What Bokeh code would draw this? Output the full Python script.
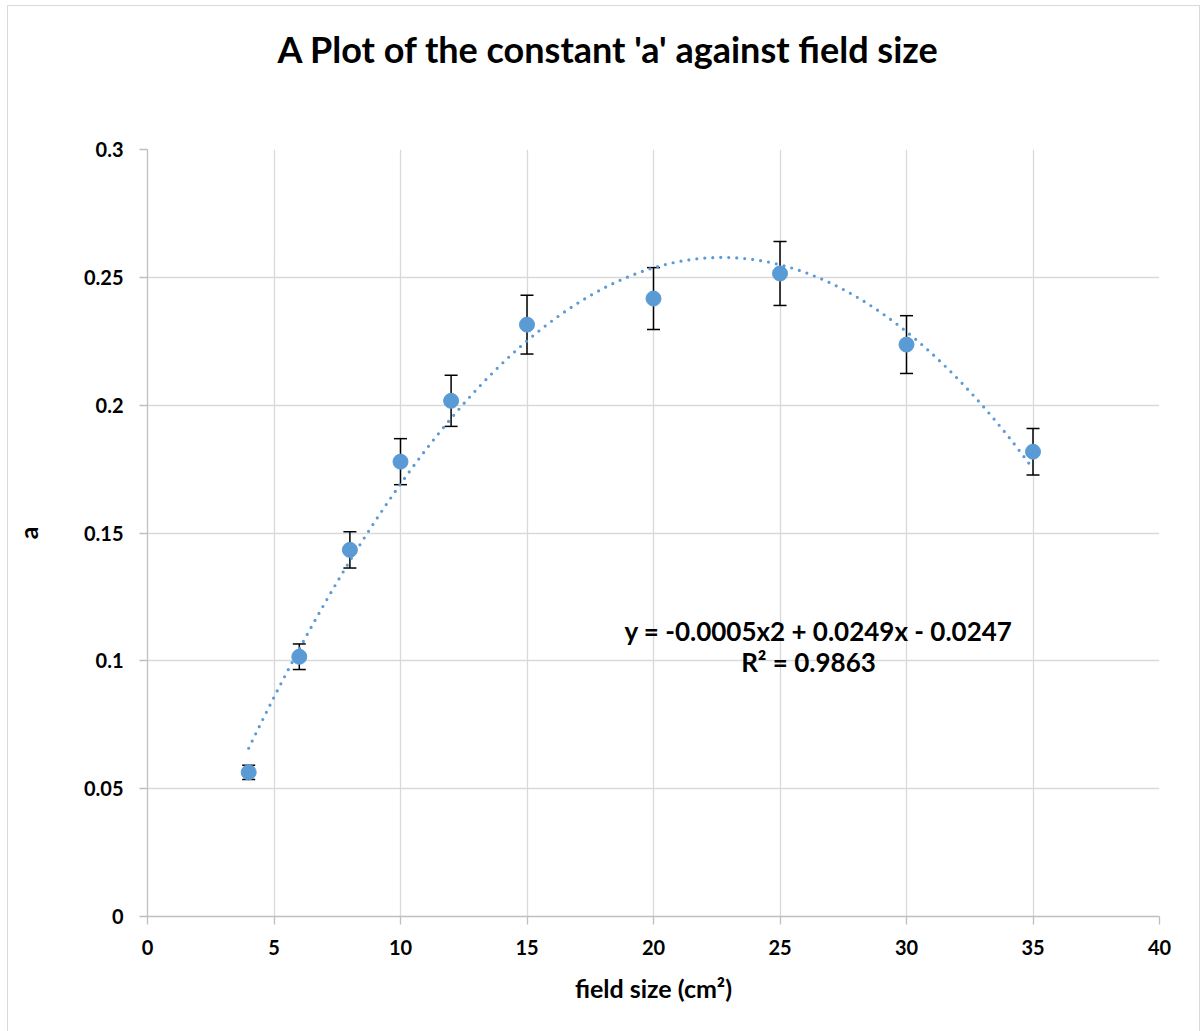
import numpy as np
from bokeh.plotting import figure
from bokeh.models import (ColumnDataSource, Whisker, TeeHead, Label, FixedTicker,
                          NumeralTickFormatter, Title)
from bokeh.embed import file_html
from bokeh.resources import INLINE

# ---- data ----
field_size = [4, 6, 8, 10, 12, 15, 20, 25, 30, 35]
a_values = [0.0564, 0.1016, 0.1434, 0.1779, 0.2017, 0.2315, 0.2417, 0.2515, 0.2237, 0.1818]
a_errors = [0.0028, 0.0050, 0.0071, 0.0090, 0.0100, 0.0115, 0.0121, 0.0125, 0.0113, 0.0091]
x_ticks = [0, 5, 10, 15, 20, 25, 30, 35, 40]
y_ticks = [0, 0.05, 0.1, 0.15, 0.2, 0.25, 0.3]

title_text = "A Plot of the constant 'a'  against field size"
eq_text = "y = -0.0005x2 + 0.0249x - 0.0247"
r2_text = "R\u00b2 = 0.9863"
x_label = "field size (cm\u00b2)"
y_label = "a"

FONT = "Lato"
BLUE = "#5b9bd5"

# ---- geometry ----
X0, X1 = 0, 40
Y0, Y1 = 0, 0.3
ORG_X, ORG_Y = 8, 6                     # page position of the canvas
FL, FT, FW, FH = 139, 143, 1012, 767    # frame left/top/width/height inside the figure
W, H = 1191, 1027

p = figure(width=W, height=H, x_range=(X0, X1), y_range=(Y0, Y1),
           output_backend="svg", toolbar_location=None, title=None,
           min_border_left=FL, min_border_top=FT,
           min_border_right=W - FL - FW, min_border_bottom=H - FT - FH)
p.frame_width = FW
p.frame_height = FH
p.outline_line_color = None
p.background_fill_color = "white"
p.border_fill_color = "white"
p.styles = {"border": "1px solid #d9d9d9", "margin": "5px 0px 0px 7px"}

# spacer between frame and title, then the title itself (stacked outward)
p.add_layout(Title(text=" ", text_font_size="1px", standoff=76), "above")
p.add_layout(Title(text=title_text, text_font=FONT, text_font_style="bold",
                   text_font_size="36px", text_color="black",
                   align="left", offset=130, standoff=0), "above")

# axes
for ax in (p.xaxis[0], p.yaxis[0]):
    ax.axis_line_color = "#bfbfbf"
    ax.axis_line_width = 1.3
    ax.major_tick_line_color = "#bfbfbf"
    ax.major_tick_line_width = 1.3
    ax.major_tick_out = 8
    ax.major_tick_in = 0
    ax.minor_tick_line_color = None
    ax.major_label_text_font = FONT
    ax.major_label_text_font_style = "bold"
    ax.major_label_text_font_size = "20px"
    ax.major_label_text_color = "black"
    ax.axis_label_text_font = FONT
    ax.axis_label_text_font_style = "bold"
    ax.axis_label_text_font_size = "25px"
    ax.axis_label_text_color = "black"
p.xaxis.ticker = FixedTicker(ticks=x_ticks)
p.yaxis.ticker = FixedTicker(ticks=y_ticks)
p.yaxis.formatter = NumeralTickFormatter(format="0.[00]")
p.xaxis.major_label_standoff = 15
p.yaxis.major_label_standoff = 16
p.xaxis.axis_label = x_label
p.yaxis.axis_label = y_label
p.xaxis.axis_label_standoff = 15
p.yaxis.axis_label_standoff = 38

p.xgrid.ticker = FixedTicker(ticks=x_ticks)
p.ygrid.ticker = FixedTicker(ticks=y_ticks)
p.grid.grid_line_color = "#d9d9d9"
p.grid.grid_line_width = 1.3

# error bars
upper = [v + e for v, e in zip(a_values, a_errors)]
lower = [v - e for v, e in zip(a_values, a_errors)]
src = ColumnDataSource(dict(x=field_size, y=a_values, upper=upper, lower=lower))
wh = Whisker(source=src, base="x", upper="upper", lower="lower", dimension="height",
             line_color="black", line_width=1.5,
             upper_head=TeeHead(size=13, line_color="black", line_width=1.5),
             lower_head=TeeHead(size=13, line_color="black", line_width=1.5))
p.add_layout(wh)

# points
p.scatter("x", "y", source=src, size=15, fill_color=BLUE, line_color=BLUE)

# polynomial trendline (2nd order least squares fit of the data)
coef = np.polyfit(field_size, a_values, 2)
xt = np.linspace(min(field_size), max(field_size), 300)
yt = np.polyval(coef, xt)
p.line(xt, yt, line_color=BLUE, line_width=3.2, line_dash="0 8", line_cap="round")

# helpers to turn page pixel positions into data positions
def dx(px):
    return X0 + (px - ORG_X - FL) / FW * (X1 - X0)

def dy(py):
    return Y1 - (py - ORG_Y - FT) / FH * (Y1 - Y0)

def add_text(txt, px, py, size):
    p.add_layout(Label(x=dx(px), y=dy(py), text=txt, text_font=FONT,
                       text_font_style="bold", text_font_size=size,
                       text_color="black", text_align="center",
                       text_baseline="middle"))

add_text(eq_text, 818, 630, "26px")
add_text(r2_text, 808, 661, "26px")

open("out.html", "w").write(file_html(p, INLINE))
